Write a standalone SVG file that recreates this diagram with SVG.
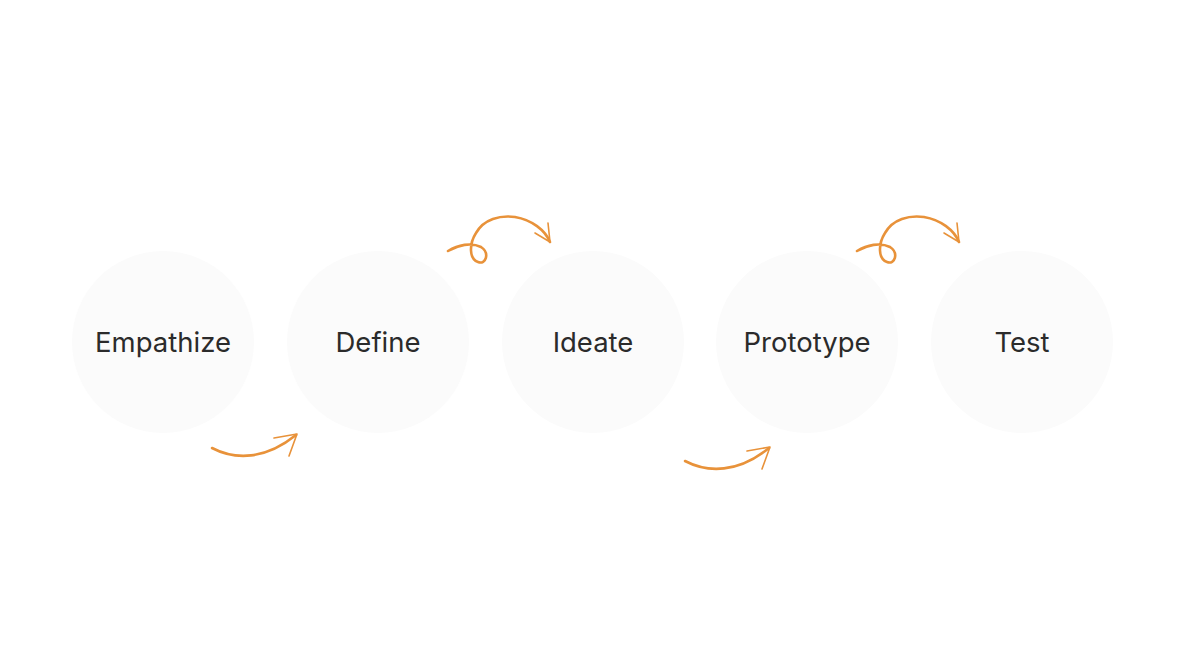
<svg xmlns="http://www.w3.org/2000/svg" width="1183" height="665" viewBox="0 0 1183 665">
<style>
.node circle{fill:#fbfbfb}
.node text{font-family:Inter,"Liberation Sans",sans-serif;font-size:27.5px;fill:#2b2b2b;text-anchor:middle;dominant-baseline:central}
.arc{fill:none;stroke:#e8923a;stroke-width:2.6;stroke-linecap:round;stroke-linejoin:round}
.head{fill:none;stroke:#e8923a;stroke-width:1.6;stroke-linecap:round;stroke-linejoin:round}
</style>
<defs>
<g id="swoop">
<path class="arc" d="M212,448 C235,460 265,460 296,435"/>
<path class="head" d="M274,438 L297,434 L289,456"/>
</g>
<g id="loop">
<path class="arc" d="M448,251 C458,245 471,242 481,247 C490,253 486,265 478,262 C469,259 469,244 476,233 C484,219 500,215 515,217 C532,220 545,230 550,242"/>
<path class="head" d="M535,233 L550,242 L548,223"/>
</g>
</defs>
<rect width="1183" height="665" fill="#ffffff"/>
<g id="empathize" class="node"><circle cx="163" cy="342" r="91"/><text x="163" y="342">Empathize</text></g>
<g id="define" class="node"><circle cx="378" cy="342" r="91"/><text x="378" y="342">Define</text></g>
<g id="ideate" class="node"><circle cx="593" cy="342" r="91"/><text x="593" y="342">Ideate</text></g>
<g id="prototype" class="node"><circle cx="807" cy="342" r="91"/><text x="807" y="342">Prototype</text></g>
<g id="test" class="node"><circle cx="1022" cy="342" r="91"/><text x="1022" y="342">Test</text></g>
<g id="connectors">
<use href="#swoop"/>
<use href="#loop"/>
<use href="#swoop" transform="translate(473,13)"/>
<use href="#loop" transform="translate(409,0)"/>
</g>
</svg>
